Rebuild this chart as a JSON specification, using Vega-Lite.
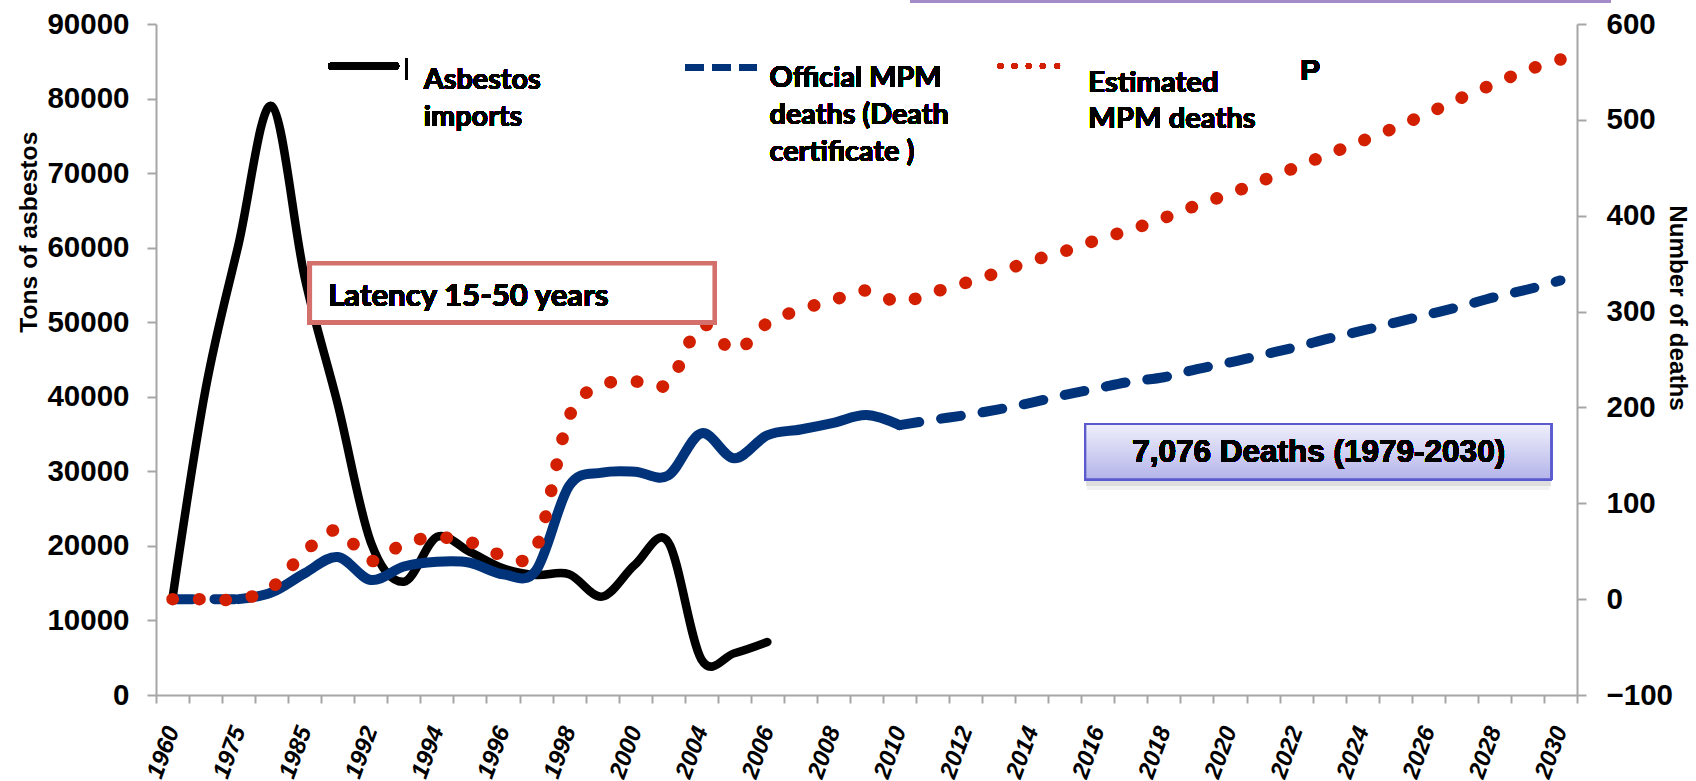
{
  "$schema": "https://vega.github.io/schema/vega-lite/v6.json",
  "width": 1421,
  "height": 671,
  "autosize": {"type": "none"},
  "padding": {"left": 156, "top": 24, "right": 119, "bottom": 86},
  "background": "white",
  "config": {
    "view": {"stroke": null},
    "axis": {"domainColor": "#a6a6a6", "domainWidth": 2, "tickColor": "#a6a6a6", "tickWidth": 2, "grid": false, "labelColor": "#000000", "titleColor": "#000000"},
    "axisX": {"labelFontSize": 24, "labelAngle": -70, "labelFont": "Liberation Sans", "labelFontWeight": "bold", "labelFontStyle": "italic"}
  },
  "data": {
    "values": [
      {"year": "1960", "series": "Asbestos imports", "value": 13000},
      {"year": "1970", "series": "Asbestos imports", "value": 41000},
      {"year": "1975", "series": "Asbestos imports", "value": 60500},
      {"year": "1980", "series": "Asbestos imports", "value": 79000},
      {"year": "1985", "series": "Asbestos imports", "value": 56000},
      {"year": "1990", "series": "Asbestos imports", "value": 39000},
      {"year": "1992", "series": "Asbestos imports", "value": 20500},
      {"year": "1993", "series": "Asbestos imports", "value": 15200},
      {"year": "1994", "series": "Asbestos imports", "value": 21200},
      {"year": "1995", "series": "Asbestos imports", "value": 19200},
      {"year": "1996", "series": "Asbestos imports", "value": 17000},
      {"year": "1997", "series": "Asbestos imports", "value": 16100},
      {"year": "1998", "series": "Asbestos imports", "value": 16200},
      {"year": "1999", "series": "Asbestos imports", "value": 13200},
      {"year": "2000", "series": "Asbestos imports", "value": 17500},
      {"year": "2002", "series": "Asbestos imports", "value": 20500},
      {"year": "2004", "series": "Asbestos imports", "value": 4800},
      {"year": "2005", "series": "Asbestos imports", "value": 5600},
      {"year": "2006", "series": "Asbestos imports", "value": 7100},

      {"year": "1960", "series": "Official MPM deaths (before 1979)", "value": 0},
      {"year": "1970", "series": "Official MPM deaths (before 1979)", "value": 0},
      {"year": "1975", "series": "Official MPM deaths (before 1979)", "value": 0},

      {"year": "1975", "series": "Official MPM deaths", "value": 0},
      {"year": "1980", "series": "Official MPM deaths", "value": 7},
      {"year": "1985", "series": "Official MPM deaths", "value": 27},
      {"year": "1990", "series": "Official MPM deaths", "value": 44},
      {"year": "1992", "series": "Official MPM deaths", "value": 20},
      {"year": "1993", "series": "Official MPM deaths", "value": 34},
      {"year": "1994", "series": "Official MPM deaths", "value": 39},
      {"year": "1995", "series": "Official MPM deaths", "value": 38},
      {"year": "1996", "series": "Official MPM deaths", "value": 26},
      {"year": "1997", "series": "Official MPM deaths", "value": 30},
      {"year": "1998", "series": "Official MPM deaths", "value": 118},
      {"year": "1999", "series": "Official MPM deaths", "value": 132},
      {"year": "2000", "series": "Official MPM deaths", "value": 133},
      {"year": "2002", "series": "Official MPM deaths", "value": 129},
      {"year": "2004", "series": "Official MPM deaths", "value": 173},
      {"year": "2005", "series": "Official MPM deaths", "value": 147},
      {"year": "2006", "series": "Official MPM deaths", "value": 171},
      {"year": "2007", "series": "Official MPM deaths", "value": 177},
      {"year": "2008", "series": "Official MPM deaths", "value": 184},
      {"year": "2009", "series": "Official MPM deaths", "value": 192},
      {"year": "2010", "series": "Official MPM deaths", "value": 181.5},

      {"year": "2010", "series": "Official MPM deaths (projected)", "value": 181.5},
      {"year": "2011", "series": "Official MPM deaths (projected)", "value": 187},
      {"year": "2012", "series": "Official MPM deaths (projected)", "value": 192},
      {"year": "2013", "series": "Official MPM deaths (projected)", "value": 198},
      {"year": "2014", "series": "Official MPM deaths (projected)", "value": 205},
      {"year": "2015", "series": "Official MPM deaths (projected)", "value": 213},
      {"year": "2016", "series": "Official MPM deaths (projected)", "value": 220},
      {"year": "2017", "series": "Official MPM deaths (projected)", "value": 227},
      {"year": "2018", "series": "Official MPM deaths (projected)", "value": 231.5},
      {"year": "2019", "series": "Official MPM deaths (projected)", "value": 240},
      {"year": "2020", "series": "Official MPM deaths (projected)", "value": 247},
      {"year": "2021", "series": "Official MPM deaths (projected)", "value": 255},
      {"year": "2022", "series": "Official MPM deaths (projected)", "value": 263},
      {"year": "2023", "series": "Official MPM deaths (projected)", "value": 272},
      {"year": "2024", "series": "Official MPM deaths (projected)", "value": 280},
      {"year": "2025", "series": "Official MPM deaths (projected)", "value": 288.5},
      {"year": "2026", "series": "Official MPM deaths (projected)", "value": 297},
      {"year": "2027", "series": "Official MPM deaths (projected)", "value": 305.5},
      {"year": "2028", "series": "Official MPM deaths (projected)", "value": 315},
      {"year": "2029", "series": "Official MPM deaths (projected)", "value": 323},
      {"year": "2030", "series": "Official MPM deaths (projected)", "value": 332.5},

      {"year": "1960", "series": "Estimated MPM deaths", "value": 0},
      {"year": "1970", "series": "Estimated MPM deaths", "value": 0},
      {"year": "1975", "series": "Estimated MPM deaths", "value": 0},
      {"year": "1980", "series": "Estimated MPM deaths", "value": 12},
      {"year": "1985", "series": "Estimated MPM deaths", "value": 49},
      {"year": "1990", "series": "Estimated MPM deaths", "value": 72},
      {"year": "1992", "series": "Estimated MPM deaths", "value": 40},
      {"year": "1993", "series": "Estimated MPM deaths", "value": 58},
      {"year": "1994", "series": "Estimated MPM deaths", "value": 64.5},
      {"year": "1995", "series": "Estimated MPM deaths", "value": 59.5},
      {"year": "1996", "series": "Estimated MPM deaths", "value": 46},
      {"year": "1997", "series": "Estimated MPM deaths", "value": 53},
      {"year": "1998", "series": "Estimated MPM deaths", "value": 190},
      {"year": "1999", "series": "Estimated MPM deaths", "value": 223},
      {"year": "2000", "series": "Estimated MPM deaths", "value": 227},
      {"year": "2002", "series": "Estimated MPM deaths", "value": 225},
      {"year": "2004", "series": "Estimated MPM deaths", "value": 286},
      {"year": "2005", "series": "Estimated MPM deaths", "value": 259},
      {"year": "2006", "series": "Estimated MPM deaths", "value": 288},
      {"year": "2007", "series": "Estimated MPM deaths", "value": 302},
      {"year": "2008", "series": "Estimated MPM deaths", "value": 312},
      {"year": "2009", "series": "Estimated MPM deaths", "value": 322},
      {"year": "2010", "series": "Estimated MPM deaths", "value": 310},
      {"year": "2011", "series": "Estimated MPM deaths", "value": 320},
      {"year": "2012", "series": "Estimated MPM deaths", "value": 330},
      {"year": "2013", "series": "Estimated MPM deaths", "value": 341},
      {"year": "2014", "series": "Estimated MPM deaths", "value": 353},
      {"year": "2015", "series": "Estimated MPM deaths", "value": 363},
      {"year": "2016", "series": "Estimated MPM deaths", "value": 375},
      {"year": "2017", "series": "Estimated MPM deaths", "value": 385.5},
      {"year": "2018", "series": "Estimated MPM deaths", "value": 397.6},
      {"year": "2019", "series": "Estimated MPM deaths", "value": 411},
      {"year": "2020", "series": "Estimated MPM deaths", "value": 423},
      {"year": "2021", "series": "Estimated MPM deaths", "value": 437},
      {"year": "2022", "series": "Estimated MPM deaths", "value": 450.5},
      {"year": "2023", "series": "Estimated MPM deaths", "value": 464.5},
      {"year": "2024", "series": "Estimated MPM deaths", "value": 478},
      {"year": "2025", "series": "Estimated MPM deaths", "value": 492},
      {"year": "2026", "series": "Estimated MPM deaths", "value": 507},
      {"year": "2027", "series": "Estimated MPM deaths", "value": 523},
      {"year": "2028", "series": "Estimated MPM deaths", "value": 537.7},
      {"year": "2029", "series": "Estimated MPM deaths", "value": 552},
      {"year": "2030", "series": "Estimated MPM deaths", "value": 563}
    ]
  },
  "encoding": {
    "x": {
      "field": "year",
      "type": "ordinal",
      "sort": null,
      "title": null,
      "scale": {
        "type": "band",
        "paddingInner": 0,
        "paddingOuter": 0,
        "domain": ["1960","1970","1975","1980","1985","1990","1992","1993","1994","1995","1996","1997","1998","1999","2000","2002","2004","2005","2006","2007","2008","2009","2010","2011","2012","2013","2014","2015","2016","2017","2018","2019","2020","2021","2022","2023","2024","2025","2026","2027","2028","2029","2030"]
      },
      "axis": {
        "title": null,
        "orient": "bottom",
        "tickBand": "extent",
        "tickSize": 8,
        "labelFont": "Liberation Sans",
        "labelFontWeight": "bold",
        "labelFontStyle": "italic",
        "labelFontSize": 24,
        "labelAngle": -70,
        "labelAlign": "right",
        "labelBaseline": "middle",
        "labelPadding": 24,
        "labelLimit": 400,
        "labelOverlap": false,
        "labelBound": false,
        "labelFlush": false,
        "labelExpr": "indexof(['1960','1975','1985','1992','1994','1996','1998','2000','2004','2006','2008','2010','2012','2014','2016','2018','2020','2022','2024','2026','2028','2030'], datum.value) >= 0 ? datum.value : ''"
      }
    }
  },
  "layer": [
    {
      "transform": [{"filter": "datum.series === 'Asbestos imports'"}],
      "mark": {"type": "line", "interpolate": "cardinal", "stroke": "#000000", "strokeWidth": 8.5, "strokeCap": "round", "strokeJoin": "round"},
      "encoding": {
        "y": {
          "field": "value",
          "type": "quantitative",
          "title": "Tons of asbestos",
          "scale": {"domain": [0, 90000], "nice": false, "zero": false},
          "axis": {
            "orient": "left",
            "values": [0, 10000, 20000, 30000, 40000, 50000, 60000, 70000, 80000, 90000],
            "format": "d",
            "tickSize": 9,
            "labelPadding": 18,
            "labelFont": "Liberation Sans",
            "labelFontWeight": "bold",
            "labelFontSize": 29.5,
            "title": "Tons of asbestos",
            "titleFont": "Liberation Sans",
            "titleFontWeight": "bold",
            "titleFontSize": 24.7,
            "titleAngle": -90,
            "titleX": -120,
            "titleY": 207.7,
            "titleAlign": "center",
            "titleBaseline": "alphabetic"
          }
        }
      }
    },
    {
      "encoding": {
        "y": {
          "field": "value",
          "type": "quantitative",
          "title": "Number of deaths",
          "scale": {"domain": [-100, 600], "nice": false, "zero": false},
          "axis": {
            "orient": "right",
            "values": [-100, 0, 100, 200, 300, 400, 500, 600],
            "format": "d",
            "tickSize": 9,
            "labelPadding": 20,
            "labelFont": "Liberation Sans",
            "labelFontWeight": "bold",
            "labelFontSize": 29.5,
            "title": "Number of deaths",
            "titleFont": "Liberation Sans",
            "titleFontWeight": "bold",
            "titleFontSize": 24.2,
            "titleAngle": 90,
            "titleX": 92,
            "titleY": 283.5,
            "titleAlign": "center",
            "titleBaseline": "alphabetic"
          }
        }
      },
      "layer": [
        {
          "transform": [{"filter": "datum.series === 'Official MPM deaths (before 1979)' || datum.series === 'Official MPM deaths (projected)'"}],
          "mark": {"type": "line", "interpolate": "cardinal", "stroke": "#00337a", "strokeWidth": 10, "strokeCap": "round", "strokeDash": [20, 22]},
          "encoding": {"detail": {"field": "series"}}
        },
        {
          "transform": [{"filter": "datum.series === 'Official MPM deaths'"}],
          "mark": {"type": "line", "interpolate": "cardinal", "stroke": "#00337a", "strokeWidth": 10, "strokeCap": "round", "strokeJoin": "round"}
        },
        {
          "transform": [{"filter": "datum.series === 'Estimated MPM deaths'"}],
          "mark": {"type": "line", "interpolate": "cardinal", "stroke": "#d21f00", "strokeWidth": 12.5, "strokeCap": "round", "strokeDash": [0.5, 26]}
        },
        {
          "mark": {"type": "rule", "stroke": "#000000", "strokeWidth": 7, "strokeCap": "round", "xOffset": -6.1, "x2Offset": -8.2},
          "encoding": {
            "x": {"datum": "1990", "type": "ordinal", "bandPosition": 0.5},
            "x2": {"datum": "1993", "bandPosition": 0.5},
            "y": {"datum": 556.25, "type": "quantitative"}
          }
        },
        {
          "mark": {"type": "rule", "stroke": "#000000", "strokeWidth": 1.5, "xOffset": 2.7, "x2Offset": 2.7},
          "encoding": {
            "x": {"datum": "1993", "type": "ordinal", "bandPosition": 0.5},
            "y": {"datum": 564.3, "type": "quantitative"},
            "y2": {"datum": 542.4}
          }
        },
        {
          "mark": {"type": "rule", "stroke": "#00337a", "strokeWidth": 6.5, "strokeDash": [18, 9], "xOffset": -15.6, "x2Offset": -10.8},
          "encoding": {
            "x": {"datum": "2004", "type": "ordinal", "bandPosition": 0.5},
            "x2": {"datum": "2006", "bandPosition": 0.5},
            "y": {"datum": 554.9, "type": "quantitative"}
          }
        },
        {
          "mark": {"type": "rule", "stroke": "#d21f00", "strokeWidth": 5.5, "strokeCap": "round", "strokeDash": [0.5, 13.6], "xOffset": 1.7, "x2Offset": -7.4},
          "encoding": {
            "x": {"datum": "2013", "type": "ordinal", "bandPosition": 0.5},
            "x2": {"datum": "2015", "bandPosition": 0.5},
            "y": {"datum": 556.25, "type": "quantitative"}
          }
        },
        {
          "mark": {"type": "text", "text": ["Asbestos", "imports"], "lineHeight": 37, "font": "Lato", "fontWeight": "bold", "fontSize": 28.8, "align": "left", "baseline": "alphabetic", "dx": -13.1, "color": "#000000"},
          "encoding": {
            "x": {"datum": "1994", "type": "ordinal", "bandPosition": 0.5},
            "y": {"datum": 532.0, "type": "quantitative"}
          }
        },
        {
          "mark": {"type": "text", "text": ["Official MPM", "deaths (Death", "certificate )"], "lineHeight": 37, "font": "Lato", "fontWeight": "bold", "fontSize": 28.8, "align": "left", "baseline": "alphabetic", "dx": 2.2, "color": "#000000"},
          "encoding": {
            "x": {"datum": "2006", "type": "ordinal", "bandPosition": 0.5},
            "y": {"datum": 534.1, "type": "quantitative"}
          }
        },
        {
          "mark": {"type": "text", "text": ["Estimated", "MPM deaths"], "lineHeight": 36.5, "font": "Lato", "fontWeight": "bold", "fontSize": 29.2, "align": "left", "baseline": "alphabetic", "dx": -9.5, "color": "#000000"},
          "encoding": {
            "x": {"datum": "2016", "type": "ordinal", "bandPosition": 0.5},
            "y": {"datum": 529.2, "type": "quantitative"}
          }
        },
        {
          "mark": {"type": "text", "text": "P", "font": "Liberation Sans", "fontWeight": "bold", "fontSize": 30, "align": "left", "baseline": "alphabetic", "dx": 4.2, "color": "#000000"},
          "encoding": {
            "x": {"datum": "2022", "type": "ordinal", "bandPosition": 0.5},
            "y": {"datum": 541.3, "type": "quantitative"}
          }
        },
        {
          "mark": {"type": "rect", "fill": "#ffffff", "stroke": "#d4706c", "strokeWidth": 4.5, "xOffset": -27.9, "x2Offset": 13.4},
          "encoding": {
            "x": {"datum": "1990", "type": "ordinal", "bandPosition": 0.5},
            "x2": {"datum": "2004", "bandPosition": 0.5},
            "y": {"datum": 350.3, "type": "quantitative"},
            "y2": {"datum": 288.9}
          }
        },
        {
          "mark": {"type": "text", "text": "Latency 15-50 years", "font": "Lato", "fontWeight": "bold", "fontSize": 31.2, "align": "left", "baseline": "alphabetic", "dx": -9.6, "color": "#000000"},
          "encoding": {
            "x": {"datum": "1990", "type": "ordinal", "bandPosition": 0.5},
            "y": {"datum": 305.7, "type": "quantitative"}
          }
        },
        {
          "mark": {"type": "rect", "fill": "#f1f1f1", "xOffset": -10.5, "x2Offset": -11.4},
          "encoding": {
            "x": {"datum": "2016", "type": "ordinal", "bandPosition": 0.5},
            "x2": {"datum": "2030", "bandPosition": 0.5},
            "y": {"datum": 176.4, "type": "quantitative"},
            "y2": {"datum": 114.0}
          }
        },
        {
          "mark": {"type": "rect", "fill": "#dedede", "xOffset": -11.5, "x2Offset": -10.4},
          "encoding": {
            "x": {"datum": "2016", "type": "ordinal", "bandPosition": 0.5},
            "x2": {"datum": "2030", "bandPosition": 0.5},
            "y": {"datum": 176.4, "type": "quantitative"},
            "y2": {"datum": 118.5}
          }
        },
        {
          "mark": {
            "type": "rect",
            "fill": {"gradient": "linear", "x1": 0, "y1": 0, "x2": 0, "y2": 1, "stops": [{"offset": 0, "color": "#efeffc"}, {"offset": 1, "color": "#b4b4ea"}]},
            "stroke": "#5a5acd",
            "strokeWidth": 2,
            "xOffset": -12.5,
            "x2Offset": -9.4
          },
          "encoding": {
            "x": {"datum": "2016", "type": "ordinal", "bandPosition": 0.5},
            "x2": {"datum": "2030", "bandPosition": 0.5},
            "y": {"datum": 182.6, "type": "quantitative"},
            "y2": {"datum": 125.2}
          }
        },
        {
          "mark": {"type": "text", "text": "7,076 Deaths (1979-2030)", "font": "Liberation Sans", "fontWeight": "bold", "fontSize": 31.5, "align": "center", "baseline": "alphabetic", "dx": -10.5, "color": "#000000"},
          "encoding": {
            "x": {"datum": "2023", "type": "ordinal", "bandPosition": 0.5},
            "y": {"datum": 143.3, "type": "quantitative"}
          }
        },
        {
          "mark": {"type": "rule", "stroke": "#a48bc8", "strokeWidth": 2.5, "xOffset": 11, "x2Offset": 49.6},
          "encoding": {
            "x": {"datum": "2010", "type": "ordinal", "bandPosition": 0.5},
            "x2": {"datum": "2030", "bandPosition": 0.5},
            "y": {"datum": 623.7, "type": "quantitative"}
          }
        }
      ]
    }
  ],
  "resolve": {"scale": {"y": "independent"}}
}
